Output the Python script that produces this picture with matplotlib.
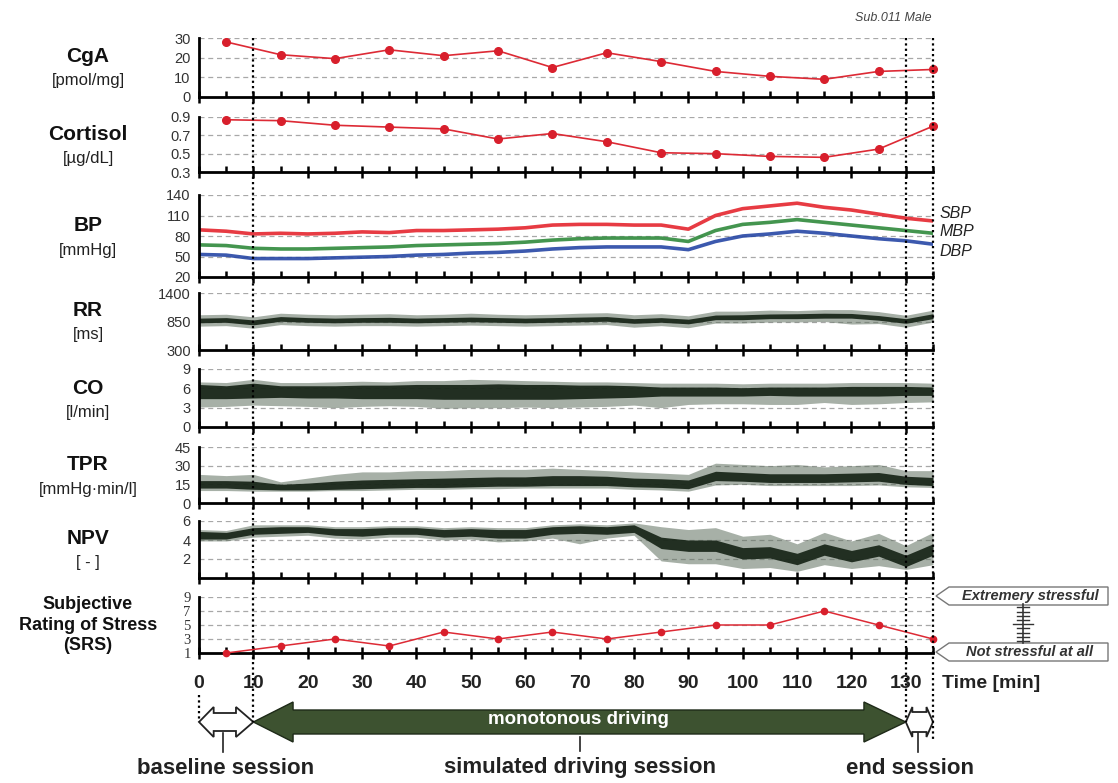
import numpy as np
import matplotlib
matplotlib.use("Agg")
import matplotlib.pyplot as plt
import matplotlib.patches as mpatches
import matplotlib.transforms as mtransforms
from matplotlib.lines import Line2D

plt.rcParams['font.family'] = ['Liberation Sans', 'DejaVu Sans']

# ---- valores ----
t_samples = [5, 15, 25, 35, 45, 55, 65, 75, 85, 95, 105, 115, 125, 135]
cga = [28, 21.5, 19.5, 24, 21, 23.5, 15, 22.5, 18, 13, 10.5, 9, 13, 14]
cortisol = [0.87, 0.86, 0.81, 0.79, 0.77, 0.66, 0.72, 0.63, 0.51, 0.50, 0.47, 0.46, 0.55, 0.80]
srs = [1, 2, 3, 2, 4, 3, 4, 3, 4, 5, 5, 7, 5, 3]

# señales continuas, leidas cada 5 minutos (envolventes)
t_signal = [0, 5, 10, 15, 20, 25, 30, 35, 40, 45, 50, 55, 60, 65, 70, 75, 80, 85, 90, 95,
            100, 105, 110, 115, 120, 125, 130, 135]

sbp = [89, 87, 83, 84, 83, 84, 86, 85, 88, 88, 89, 90, 92, 96, 97, 97, 96, 96, 90, 110,
       120, 124, 128, 122, 118, 112, 106, 102]
mbp = [67, 66, 62, 61, 61, 62, 63, 64, 66, 67, 68, 69, 71, 74, 76, 77, 77, 77, 72, 88,
       97, 100, 104, 100, 96, 92, 88, 84]
dbp = [53, 52, 47, 47, 47, 48, 49, 50, 52, 53, 55, 56, 58, 61, 63, 64, 64, 64, 60, 72,
       80, 83, 87, 84, 80, 76, 73, 68]

rr_lo = [825, 835, 785, 855, 835, 825, 835, 835, 825, 835, 845, 835, 825, 835, 845, 855, 815, 835,
         805, 885, 885, 905, 905, 915, 915, 875, 815, 905]
rr_hi = [915, 925, 880, 945, 925, 915, 925, 930, 915, 925, 935, 925, 915, 925, 935, 945, 905, 925,
         895, 975, 980, 995, 1000, 1010, 1005, 965, 905, 1000]
rr_min = [760, 770, 720, 790, 770, 760, 770, 770, 760, 770, 780, 770, 760, 770, 780, 790, 740, 770,
          730, 820, 820, 840, 840, 850, 800, 810, 740, 840]
rr_max = [980, 990, 940, 1010, 990, 980, 990, 1000, 980, 990, 1010, 990, 980, 990, 1010, 1020, 980,
          1000, 960, 1050, 1050, 1070, 1060, 1080, 1080, 1040, 970, 1070]

co_lo = [4.4, 4.4, 4.5, 4.6, 4.5, 4.5, 4.4, 4.4, 4.4, 4.3, 4.3, 4.3, 4.3, 4.3, 4.4, 4.5, 4.6, 4.8,
         4.8, 4.8, 4.8, 4.9, 4.8, 4.8, 4.8, 4.8, 4.9, 4.9]
co_hi = [6.6, 6.4, 6.8, 6.4, 6.4, 6.4, 6.5, 6.5, 6.6, 6.6, 6.6, 6.7, 6.6, 6.6, 6.5, 6.5, 6.4, 6.2,
         6.2, 6.2, 6.1, 6.2, 6.2, 6.2, 6.3, 6.3, 6.3, 6.2]
co_min = [3.1, 3.2, 3.4, 3.3, 3.2, 3.0, 3.2, 3.3, 3.2, 2.9, 3.0, 3.0, 3.1, 3.0, 3.1, 3.2, 3.4, 3.0,
          3.5, 3.6, 3.6, 3.5, 3.5, 3.8, 3.5, 3.6, 3.8, 3.9]
co_max = [7.0, 6.9, 7.4, 6.9, 6.9, 7.0, 7.1, 7.0, 7.2, 7.2, 7.4, 7.3, 7.2, 7.1, 7.0, 7.0, 6.9, 6.8,
          6.8, 6.8, 6.7, 6.8, 6.8, 6.8, 6.9, 6.9, 6.9, 6.8]

tpr_lo = [12, 12, 11, 10.5, 10.5, 11, 11.5, 12, 12.5, 12.5, 13, 13.5, 13.5, 14, 14, 14, 13, 12.5,
          11.5, 18, 17.5, 16.5, 16.5, 16.5, 17, 17.5, 15, 14]
tpr_hi = [18, 18, 17.5, 15, 16, 17.5, 18.5, 19, 19.5, 20, 20.5, 21, 21, 22, 22, 21.5, 20, 19.5,
          18.5, 25.5, 24.5, 23.5, 23.5, 23.5, 24, 24.5, 21.5, 20.5]
tpr_min = [10, 10, 9.5, 9.5, 9.5, 10, 10, 10.5, 11, 11, 11.5, 11.5, 12, 12, 12, 12, 11, 10.5,
           9.5, 14.5, 15, 14, 14, 14, 14, 14.5, 13, 12.5]
tpr_max = [23, 22, 23, 17, 20, 23, 25, 25, 26, 26, 27, 27, 27, 28, 27, 26, 25, 24, 23, 32, 31, 30,
           31, 29, 30, 31, 26, 26]

npv_lo = [4.1, 4.1, 4.6, 4.7, 4.8, 4.5, 4.4, 4.6, 4.6, 4.3, 4.4, 4.2, 4.2, 4.6, 4.7, 4.6, 4.8, 3.1,
          2.8, 2.8, 2.0, 2.1, 1.4, 2.4, 1.7, 2.3, 1.2, 2.4]
npv_hi = [4.9, 4.8, 5.3, 5.4, 5.4, 5.2, 5.2, 5.3, 5.3, 5.1, 5.2, 5.1, 5.1, 5.4, 5.5, 5.4, 5.6, 4.3,
          4.0, 4.0, 3.2, 3.3, 2.6, 3.6, 2.9, 3.5, 2.4, 3.6]
npv_min = [3.9, 3.9, 4.3, 4.4, 4.5, 4.2, 4.1, 4.3, 4.3, 4.0, 4.1, 3.8, 3.9, 4.2, 3.6, 4.2, 4.5, 1.8,
           1.5, 1.5, 1.0, 1.1, 0.7, 1.4, 1.0, 1.3, 0.9, 1.4]
npv_max = [5.1, 5.0, 5.6, 5.6, 5.6, 5.4, 5.4, 5.5, 5.5, 5.3, 5.4, 5.3, 5.3, 5.6, 5.7, 5.6, 5.8, 5.4,
           5.1, 5.3, 4.4, 4.6, 3.6, 4.8, 3.9, 4.7, 3.4, 4.8]

time_ticks = [0, 10, 20, 30, 40, 50, 60, 70, 80, 90, 100, 110, 120, 130]

# ---- figura ----
W, H = 1118, 783
fig = plt.figure(figsize=(W / 100, H / 100), dpi=100)


def fx(px):
    return px / W


def fy(py):
    return 1 - py / H


X0, X1 = 199, 933  # pixeles del eje de tiempo (0 y 135 min)


def panel(top, bottom, ylim, yticks, fmt="{:g}", serif=False):
    ax = fig.add_axes([fx(X0), fy(bottom), fx(X1) - fx(X0), (bottom - top) / H])
    ax.patch.set_alpha(0)
    ax.set_xlim(0, 135)
    ax.set_ylim(*ylim)
    ax.spines[['top', 'right']].set_visible(False)
    for s in ['left', 'bottom']:
        ax.spines[s].set_linewidth(2)
    ax.set_xticks(time_ticks)
    ax.set_xticks(range(5, 136, 10), minor=True)
    ax.tick_params(axis='x', which='major', direction='inout', length=9, width=1.8,
                   labelbottom=False)
    ax.tick_params(axis='x', which='minor', direction='in', length=4.5, width=1.8)
    ax.set_yticks(yticks)
    ax.set_yticklabels([fmt.format(v) for v in yticks])
    ax.set_yticks([ylim[1]], minor=True)
    ax.tick_params(axis='y', which='major', length=0, pad=6, labelsize=10.5,
                   labelcolor='#333333')
    ax.tick_params(axis='y', which='minor', direction='in', length=5, width=1.8)
    if serif:
        for lb in ax.get_yticklabels():
            lb.set_family('Liberation Serif')
    for v in yticks:
        if v > ylim[0]:
            ax.axhline(v, color='#a8a8a8', lw=0.9, ls=(0, (4, 3)), zorder=0)
    return ax


def side_label(title, unit, mid):
    fig.text(fx(88), fy(mid - 10), title, ha='center', va='center', fontsize=15,
             fontweight='bold', color='#111111')
    fig.text(fx(88), fy(mid + 14), unit, ha='center', va='center', fontsize=12, color='#222222')


def signal(ax, s_min, s_max, s_lo, s_hi):
    ax.fill_between(t_signal, s_min, s_max, color=light, lw=0, alpha=0.55)
    ax.fill_between(t_signal, s_lo, s_hi, color=dark, lw=0, alpha=0.92)


red = '#dd2a35'
dark = '#172417'
light = '#5f705f'

# CgA
ax = panel(38, 97, (0, 30), [0, 10, 20, 30])
ax.plot(t_samples, cga, color=red, lw=1.2, marker='o', ms=5.5, mfc='#d81f2c', mec='#d81f2c',
        clip_on=False, zorder=3)
side_label('CgA', '[pmol/mg]', 67)

# Cortisol
ax = panel(117, 172, (0.3, 0.9), [0.3, 0.5, 0.7, 0.9], fmt="{:.1f}")
ax.plot(t_samples, cortisol, color=red, lw=1.2, marker='o', ms=5.5, mfc='#d81f2c', mec='#d81f2c',
        clip_on=False, zorder=3)
side_label('Cortisol', '[\u00b5g/dL]', 144)

# BP
ax = panel(195, 277, (20, 140), [20, 50, 80, 110, 140])
ax.plot(t_signal, sbp, color='#e5262e', lw=2.6, alpha=0.9)
ax.plot(t_signal, mbp, color='#2f8a3c', lw=2.6, alpha=0.9)
ax.plot(t_signal, dbp, color='#2747a5', lw=2.6, alpha=0.9)
side_label('BP', '[mmHg]', 236)
for name, py in [('SBP', 214), ('MBP', 232), ('DBP', 251)]:
    fig.text(fx(940), fy(py), name, ha='left', va='center', fontsize=11.5, style='italic',
             color='#222222')

# RR
ax = panel(293, 350, (300, 1400), [300, 850, 1400])
signal(ax, rr_min, rr_max, rr_lo, rr_hi)
side_label('RR', '[ms]', 321)

# CO
ax = panel(369, 427, (0, 9), [0, 3, 6, 9])
signal(ax, co_min, co_max, co_lo, co_hi)
side_label('CO', '[l/min]', 398)

# TPR
ax = panel(447, 503, (0, 45), [0, 15, 30, 45])
signal(ax, tpr_min, tpr_max, tpr_lo, tpr_hi)
side_label('TPR', '[mmHg\u00b7min/l]', 475)

# NPV
ax = panel(521, 578, (0, 6), [2, 4, 6])
signal(ax, npv_min, npv_max, npv_lo, npv_hi)
side_label('NPV', '[ - ]', 549)

# SRS
ax_srs = panel(597, 653, (1, 9), [1, 3, 5, 7, 9], serif=True)
ax_srs.plot(t_samples, srs, color=red, lw=1.1, marker='o', ms=4.5, mfc='#d81f2c', mec='#d81f2c',
            clip_on=False, zorder=3)
ax_srs.tick_params(axis='x', which='major', labelbottom=True, labelsize=14, pad=11,
                   labelcolor='#222222')
for lb in ax_srs.get_xticklabels():
    lb.set_fontweight('bold')
fig.text(fx(88), fy(625), 'Subjective\nRating of Stress\n(SRS)', ha='center', va='center',
         fontsize=13, fontweight='bold', color='#111111', linespacing=1.3)
fig.text(fx(942), fy(684), 'Time [min]', ha='left', va='center', fontsize=14,
         fontweight='bold', color='#222222')

fig.text(fx(932), fy(18), 'Sub.011 Male', ha='right', va='center', fontsize=9, style='italic',
         color='#444444')

# ---- lineas punteadas verticales y flechas de sesiones ----
tr = mtransforms.blended_transform_factory(ax_srs.transData, fig.transFigure)
dot = dict(color='black', lw=1.6, ls=(0, (1, 1.4)), transform=tr)
fig.add_artist(Line2D([10, 10], [fy(38), fy(722)], **dot))
fig.add_artist(Line2D([130, 130], [fy(38), fy(722)], **dot))
fig.add_artist(Line2D([135, 135], [fy(38), fy(740)], **dot))
fig.add_artist(Line2D([0, 0], [fy(695), fy(722)], **dot))


def block_arrow(x0, x1, hx0, hx1, tip, head, body, **kw):
    verts = [(x0, fy(tip)), (hx0, fy(tip - head)), (hx0, fy(tip - body)), (hx1, fy(tip - body)),
             (hx1, fy(tip - head)), (x1, fy(tip)), (hx1, fy(tip + head)), (hx1, fy(tip + body)),
             (hx0, fy(tip + body)), (hx0, fy(tip + head))]
    fig.add_artist(mpatches.Polygon(verts, closed=True, transform=tr, **kw))


block_arrow(10, 130, 17.3, 122.3, 722, 20, 12, facecolor='#3d5230', edgecolor='#1e2a18', lw=1)
block_arrow(0, 10, 2.7, 6.8, 722, 15, 9, facecolor='white', edgecolor='#222222', lw=1.3)
block_arrow(130, 135, 131.2, 133.8, 722, 15, 10, facecolor='white', edgecolor='#222222', lw=1.3)
fig.text(fx(578), fy(720), 'monotonous driving', ha='center', va='center', fontsize=13.5,
         fontweight='bold', color='white')

for xm, y0, y1 in [(4.4, 733, 752), (70, 737, 751), (132.2, 733, 752)]:
    fig.add_artist(Line2D([xm, xm], [fy(y0), fy(y1)], color='#222222', lw=1.2, transform=tr))

for txt, px in [('baseline session', 226), ('simulated driving session', 580),
                ('end session', 910)]:
    fig.text(fx(px), fy(768), txt, ha='center', va='center', fontsize=16, fontweight='bold',
             color='#222222')

# ---- escala de SRS ----
for txt, py in [('Extremery stressful', 596), ('Not stressful at all', 652)]:
    verts = [(fx(936), fy(py)), (fx(949), fy(py - 9)), (fx(1108), fy(py - 9)),
             (fx(1108), fy(py + 9)), (fx(949), fy(py + 9))]
    fig.add_artist(mpatches.Polygon(verts, closed=True, transform=fig.transFigure,
                                    facecolor='white', edgecolor='#777777', lw=1))
    fig.text(fx(1030), fy(py), txt, ha='center', va='center', fontsize=10.5,
             fontweight='bold', style='italic', color='#333333')

fig.add_artist(Line2D([fx(1023), fx(1023)], [fy(604), fy(643)], color='#333333', lw=1.2,
                      transform=fig.transFigure))
for level in range(1, 10):
    py = 641 - (level - 1) * 4.2
    half = 10 if level == 5 else 6
    fig.add_artist(Line2D([fx(1023 - half), fx(1023 + half)], [fy(py), fy(py)],
                          color='#333333', lw=1, transform=fig.transFigure))

fig.savefig('out.png', dpi=100)
